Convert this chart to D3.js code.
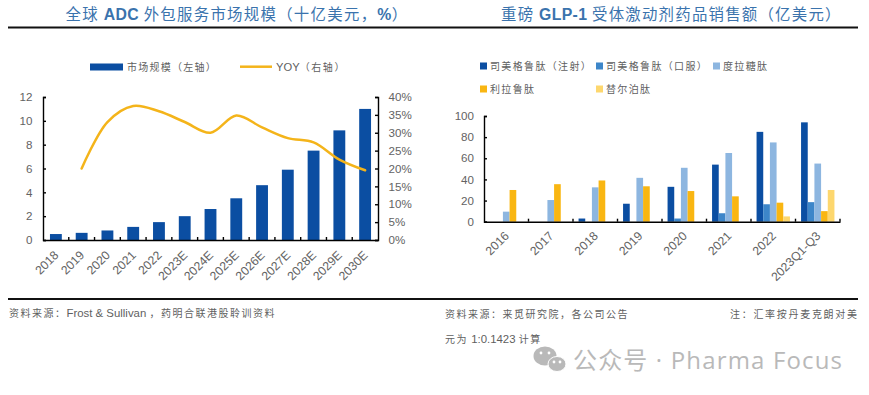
<!DOCTYPE html>
<html><head><meta charset="utf-8">
<script src="https://cdn.jsdelivr.net/npm/d3@7/dist/d3.min.js"></script>
<style>
html,body{margin:0;padding:0;background:#fff;}
svg{display:block;}
text{font-family:"Liberation Sans","Noto Sans CJK SC",sans-serif;}
.domain{stroke:#000;stroke-width:1.4;}
.tick line{stroke:#000;stroke-width:1.4;}
.tick text{fill:#636363;font-size:11.6px;}
</style></head><body>
<svg id="c" width="869" height="395"></svg>
<script>
// Left chart data
const adcYears = ["2018","2019","2020","2021","2022","2023E","2024E","2025E","2026E","2027E","2028E","2029E","2030E"];
const adcMarket = [0.5,0.6,0.8,1.1,1.5,2.0,2.6,3.5,4.6,5.9,7.5,9.2,11.0];
const adcYoy = [null,20,33,37.5,36,33,30,34.8,31.5,28.5,27.3,22.5,19.5];
const adcTitle = "全球 ADC 外包服务市场规模（十亿美元，%）";
// Right chart data
const glpYears = ["2016","2017","2018","2019","2020","2021","2022","2023Q1-Q3"];
const semaInj = [0,0,3,17,33,54,85,94];
const semaOral = [0,0,0,0,3,8,16.5,18.5];
const dula = [9.5,20.5,32.5,41.5,51,65,75,55];
const lira = [30,35.5,39,33.5,29,24,18,10];
const tirz = [0,0,0,0,0,0,5,30];
const glpNames = ["司美格鲁肽（注射）","司美格鲁肽（口服）","度拉糖肽","利拉鲁肽","替尔泊肽"];
const glpSeries = [semaInj,semaOral,dula,lira,tirz];
const glpTitle = "重磅 GLP-1 受体激动剂药品销售额（亿美元）";
const glpColors = ["#0b4ea2","#3d86c9","#8db6e0","#f9b612","#fdd76e"];

const svg = d3.select("#c");
const blue="#0b4ea2", gold="#f4b41a", titleC="#3a73ad", noteC="#5f5f5f";

// mixed text: CJK runs and Latin runs get their own size and spacing
function mixed(s,x,y,fill,o){
  const t=svg.append("text").attr("x",x).attr("y",y).attr("fill",fill);
  (s.match(/[\u3000-\u9fff\uff00-\uffef]+|[^\u3000-\u9fff\uff00-\uffef]+/g)||[]).forEach(run=>{
    const cjk=/[\u3000-\u9fff\uff00-\uffef]/.test(run);
    const sp=t.append("tspan").attr("xml:space","preserve").text(run)
      .attr("font-size",cjk?o.cs:o.ls)
      .attr("letter-spacing",cjk?o.csp:(o.lsp||0));
    if(!cjk&&o.lbold)sp.attr("font-weight","bold");
  });
  t.style("white-space","pre");
  return t;
}
const titleO={cs:15.4,csp:1.3,ls:15.8,lsp:0.35,lbold:true};
const noteO={cs:10,csp:1.5,ls:11.4,lsp:0};
mixed(adcTitle,65.5,20,titleC,titleO);
mixed(glpTitle,501,20,titleC,{cs:15.4,csp:1.25,ls:15.8,lsp:0.35,lbold:true});
svg.append("line").attr("x1",8).attr("x2",858).attr("y1",27.5).attr("y2",27.5).attr("stroke","#111").attr("stroke-width",1.8);
svg.append("line").attr("x1",8).attr("x2",858).attr("y1",299).attr("y2",299).attr("stroke","#111").attr("stroke-width",1.8);

// ---- Left chart
const lx=d3.scaleBand().domain(adcYears).range([43,378]).paddingInner(0.54).paddingOuter(0.27);
const ly=d3.scaleLinear().domain([0,12]).range([240,97]);
const ry=d3.scaleLinear().domain([0,40]).range([240,97]);
svg.append("g").selectAll("rect").data(adcMarket).join("rect")
  .attr("x",(d,i)=>lx(adcYears[i])).attr("width",lx.bandwidth())
  .attr("y",d=>ly(d)).attr("height",d=>ly(0)-ly(d)).attr("fill",blue);
svg.append("g").attr("transform","translate(43,0)")
  .call(d3.axisLeft(ly).tickValues(d3.range(0,13,2)).tickSize(-3).tickPadding(10.5));
svg.append("g").attr("transform","translate(378,0)")
  .call(d3.axisRight(ry).tickValues(d3.range(0,41,5)).tickFormat(d=>d+"%").tickSize(-3).tickPadding(10.5));
const lxa=svg.append("g").attr("transform","translate(0,240)")
  .call(d3.axisBottom(lx).tickSize(0).tickPadding(0));
lxa.selectAll(".tick text").attr("text-anchor","end").attr("dy",0).style("font-size","12.2px")
  .attr("transform","translate(3.5,16) rotate(-45)").attr("y",0).attr("x",0);
svg.append("g").selectAll("line").data(adcYears.slice(1)).join("line")
  .attr("x1",d=>lx(d)-lx.step()*0.27).attr("x2",d=>lx(d)-lx.step()*0.27)
  .attr("y1",240).attr("y2",237).attr("stroke","#000").attr("stroke-width",1.4);
const line=d3.line().defined(d=>d!==null)
  .x((d,i)=>lx(adcYears[i])+lx.bandwidth()/2).y(d=>ry(d)).curve(d3.curveCatmullRom.alpha(0.5));
svg.append("path").attr("d",line(adcYoy)).attr("fill","none").attr("stroke",gold).attr("stroke-width",2.5).attr("stroke-linecap","round");
// left legend
svg.append("rect").attr("x",90).attr("y",63.5).attr("width",33).attr("height",7).attr("fill",blue);
mixed("市场规模（左轴）",127,71,noteC,{cs:10,csp:1.25,ls:11.2});
svg.append("line").attr("x1",240).attr("x2",272).attr("y1",66.7).attr("y2",66.7).attr("stroke",gold).attr("stroke-width",2.5);
mixed("YOY（右轴）",276,71,noteC,{cs:10,csp:1.6,ls:11.2});

// ---- Right chart
const gx=d3.scaleBand().domain(glpYears).range([484,840]).paddingInner(0.25).paddingOuter(0.125);
const g1=d3.scaleBand().domain(d3.range(5)).range([0,gx.bandwidth()]);
const gy=d3.scaleLinear().domain([0,100]).range([221.7,116]);
glpSeries.forEach((vals,s)=>{
  svg.append("g").selectAll("rect").data(vals).join("rect")
    .attr("x",(d,i)=>gx(glpYears[i])+g1(s)).attr("width",g1.bandwidth())
    .attr("y",d=>gy(d)).attr("height",d=>gy(0)-gy(d)).attr("fill",glpColors[s]);
});
svg.append("g").attr("transform","translate(484,0)")
  .call(d3.axisLeft(gy).tickValues(d3.range(0,101,20)).tickSize(-3).tickPadding(10));
const gxa=svg.append("g").attr("transform","translate(0,221.7)")
  .call(d3.axisBottom(gx).tickSize(0).tickPadding(0));
gxa.selectAll(".tick text").attr("text-anchor","end").attr("dy",0).style("font-size","12.2px")
  .attr("transform","translate(3.5,15) rotate(-45)").attr("y",0).attr("x",0);
svg.append("g").selectAll("line").data(glpYears).join("line")
  .attr("x1",(d,i)=>484+gx.step()*(i+1)).attr("x2",(d,i)=>484+gx.step()*(i+1))
  .attr("y1",221.7).attr("y2",218.7).attr("stroke","#000").attr("stroke-width",1.4);
// right legend
const legX=[480,596,713,480,596], legY=[66,66,66,89,89];
glpNames.forEach((n,i)=>{
  svg.append("rect").attr("x",legX[i]).attr("y",legY[i]-3.5).attr("width",7).attr("height",7).attr("fill",glpColors[i]);
  mixed(n,legX[i]+10,legY[i]+4,noteC,{cs:10,csp:1.35,ls:11});
});

// ---- Footnotes
mixed("资料来源：Frost & Sullivan ，药明合联港股聆训资料",9,317,noteC,noteO);
mixed("资料来源：来觅研究院，各公司公告",445,318,noteC,{cs:10,csp:1.5,ls:11});
mixed("注：汇率按丹麦克朗对美",730,318,noteC,{cs:10,csp:1.7,ls:11});
mixed("元为 1:0.1423 计算",445,343,noteC,noteO);

// ---- Watermark
const wm="#b9b9b9";
svg.append("ellipse").attr("cx",545).attr("cy",356).attr("rx",11.5).attr("ry",9.5).attr("fill",wm);
svg.append("ellipse").attr("cx",557).attr("cy",364).attr("rx",9).attr("ry",7.5).attr("fill",wm).attr("stroke","#fff").attr("stroke-width",1);
[[541,353],[549,353],[554,362],[560,362]].forEach(p=>svg.append("circle").attr("cx",p[0]).attr("cy",p[1]).attr("r",1.4).attr("fill","#fff"));
svg.append("text").attr("x",573).attr("y",369).attr("font-size",24).attr("fill",wm)
  .attr("textLength",269).attr("lengthAdjust","spacing")
  .style("font-family",'"Open Sans","Noto Sans CJK SC",sans-serif').text("公众号 · Pharma Focus");
</script>
</body></html>
